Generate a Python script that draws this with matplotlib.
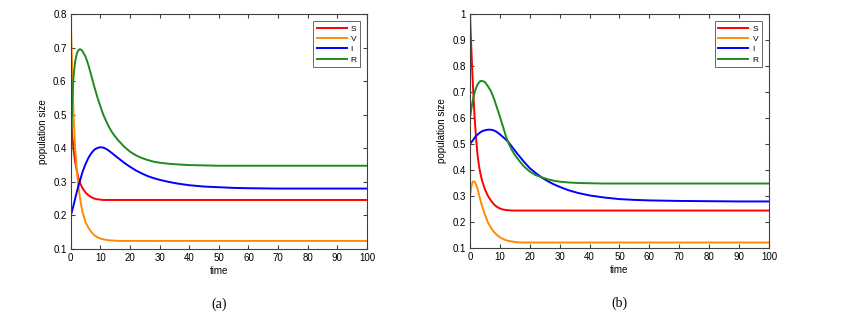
import matplotlib.pyplot as plt

plt.rcParams['font.family'] = ['Liberation Sans', 'DejaVu Sans']

# sample times (same grid for both panels)
t = [0, 0.25, 0.5, 0.75, 1, 1.5, 2, 2.5, 3, 3.5, 4, 5, 6, 7, 8, 9, 10, 11, 12, 13, 14, 15, 16,
     18, 20, 22, 24, 26, 28, 30, 33, 36, 40, 45, 50, 55, 60, 70, 80, 90, 100]

# panel (a)
S_a = [0.50, 0.47, 0.44, 0.415, 0.395, 0.36, 0.335, 0.315, 0.30, 0.29, 0.281, 0.268, 0.26, 0.254,
       0.25, 0.248, 0.247, 0.246, 0.246, 0.246, 0.246, 0.246, 0.246, 0.246, 0.246, 0.246, 0.246,
       0.246, 0.246, 0.246, 0.246, 0.246, 0.246, 0.246, 0.246, 0.246, 0.246, 0.246, 0.246, 0.246, 0.246]
V_a = [0.80, 0.71, 0.63, 0.555, 0.49, 0.40, 0.34, 0.295, 0.26, 0.232, 0.21, 0.18, 0.163, 0.15,
       0.141, 0.135, 0.131, 0.129, 0.127, 0.126, 0.125, 0.125, 0.124, 0.124, 0.124, 0.124, 0.124,
       0.124, 0.124, 0.124, 0.124, 0.124, 0.124, 0.124, 0.124, 0.124, 0.124, 0.124, 0.124, 0.124, 0.124]
I_a = [0.20, 0.207, 0.215, 0.223, 0.232, 0.25, 0.268, 0.285, 0.30, 0.315, 0.33, 0.353, 0.372, 0.386,
       0.396, 0.401, 0.403, 0.402, 0.398, 0.392, 0.385, 0.378, 0.371, 0.357, 0.345, 0.334, 0.325,
       0.317, 0.311, 0.306, 0.30, 0.295, 0.29, 0.286, 0.284, 0.282, 0.281, 0.28, 0.28, 0.28, 0.28]
R_a = [0.30, 0.44, 0.53, 0.585, 0.62, 0.658, 0.68, 0.691, 0.695, 0.694, 0.689, 0.673, 0.647, 0.615,
       0.582, 0.552, 0.525, 0.50, 0.48, 0.462, 0.447, 0.435, 0.424, 0.405, 0.39, 0.379, 0.371,
       0.365, 0.36, 0.357, 0.354, 0.352, 0.35, 0.349, 0.348, 0.348, 0.348, 0.348, 0.348, 0.348, 0.348]

# panel (b)
S_b = [1.00, 0.92, 0.85, 0.78, 0.72, 0.61, 0.525, 0.46, 0.415, 0.385, 0.36, 0.325, 0.30, 0.282,
       0.268, 0.258, 0.252, 0.248, 0.246, 0.245, 0.244, 0.244, 0.244, 0.244, 0.244, 0.244, 0.244,
       0.244, 0.244, 0.244, 0.244, 0.244, 0.244, 0.244, 0.244, 0.244, 0.244, 0.244, 0.244, 0.244, 0.244]
V_b = [0.30, 0.32, 0.338, 0.35, 0.356, 0.355, 0.345, 0.328, 0.305, 0.283, 0.262, 0.228, 0.198, 0.178,
       0.162, 0.15, 0.141, 0.135, 0.13, 0.127, 0.125, 0.123, 0.122, 0.121, 0.121, 0.121, 0.121,
       0.121, 0.121, 0.121, 0.121, 0.121, 0.121, 0.121, 0.121, 0.121, 0.121, 0.121, 0.121, 0.121, 0.121]
I_b = [0.50, 0.504, 0.508, 0.511, 0.515, 0.523, 0.53, 0.536, 0.541, 0.545, 0.549, 0.553, 0.555,
       0.555, 0.552, 0.546, 0.537, 0.527, 0.517, 0.505, 0.49, 0.475, 0.46, 0.432, 0.407, 0.388,
       0.371, 0.357, 0.345, 0.335, 0.322, 0.312, 0.302, 0.294, 0.288, 0.285, 0.283, 0.281, 0.28,
       0.279, 0.279]
R_b = [0.60, 0.62, 0.64, 0.657, 0.672, 0.697, 0.715, 0.728, 0.737, 0.742, 0.743, 0.738, 0.722,
       0.703, 0.675, 0.64, 0.605, 0.568, 0.53, 0.50, 0.477, 0.458, 0.442, 0.414, 0.394, 0.38,
       0.372, 0.364, 0.359, 0.355, 0.352, 0.35, 0.349, 0.348, 0.348, 0.348, 0.348, 0.348, 0.348,
       0.348, 0.348]

colors = ['#ff0000', '#ff8c00', '#0000ff', '#1f8b1f']
names = ['S', 'V', 'I', 'R']


def draw(ax, series, ylim, yticks, caption):
    for y, c, n in zip(series, colors, names):
        ax.plot(t, y, color=c, lw=1.4, label=n)
    ax.set_xlim(0, 100)
    ax.set_ylim(*ylim)
    ax.set_xticks(range(0, 101, 10))
    ax.set_yticks(yticks)
    ax.set_yticklabels([('%g' % v) for v in yticks])
    ax.tick_params(direction='in', top=True, right=True, labelsize=7, length=3,
                   color='#404040', pad=3)
    for s in ax.spines.values():
        s.set_color('#404040')
        s.set_linewidth(0.8)
    ax.set_xlabel('time', fontsize=7, labelpad=2)
    ax.set_ylabel('population size', fontsize=7, labelpad=4)
    leg = ax.legend(loc='upper right', fontsize=6, handlelength=3.6, handletextpad=0.5,
                    labelspacing=0.3, borderpad=0.45, fancybox=False,
                    bbox_to_anchor=(0.978, 0.97), borderaxespad=0)
    leg.get_frame().set_edgecolor('#404040')
    leg.get_frame().set_linewidth(0.7)
    ax.text(0.5, -0.235, caption, transform=ax.transAxes, ha='center', va='center',
            fontsize=10, family='Liberation Serif')


fig = plt.figure(figsize=(8.44, 3.13), dpi=100)
ax1 = fig.add_axes([0.0838, 0.2045, 0.351, 0.7508])
ax2 = fig.add_axes([0.5569, 0.2077, 0.3542, 0.7476])

draw(ax1, [S_a, V_a, I_a, R_a], (0.1, 0.8), [0.1, 0.2, 0.3, 0.4, 0.5, 0.6, 0.7, 0.8], '(a)')
draw(ax2, [S_b, V_b, I_b, R_b], (0.1, 1.0), [0.1, 0.2, 0.3, 0.4, 0.5, 0.6, 0.7, 0.8, 0.9, 1.0], '(b)')

fig.savefig('out.png', dpi=100)
